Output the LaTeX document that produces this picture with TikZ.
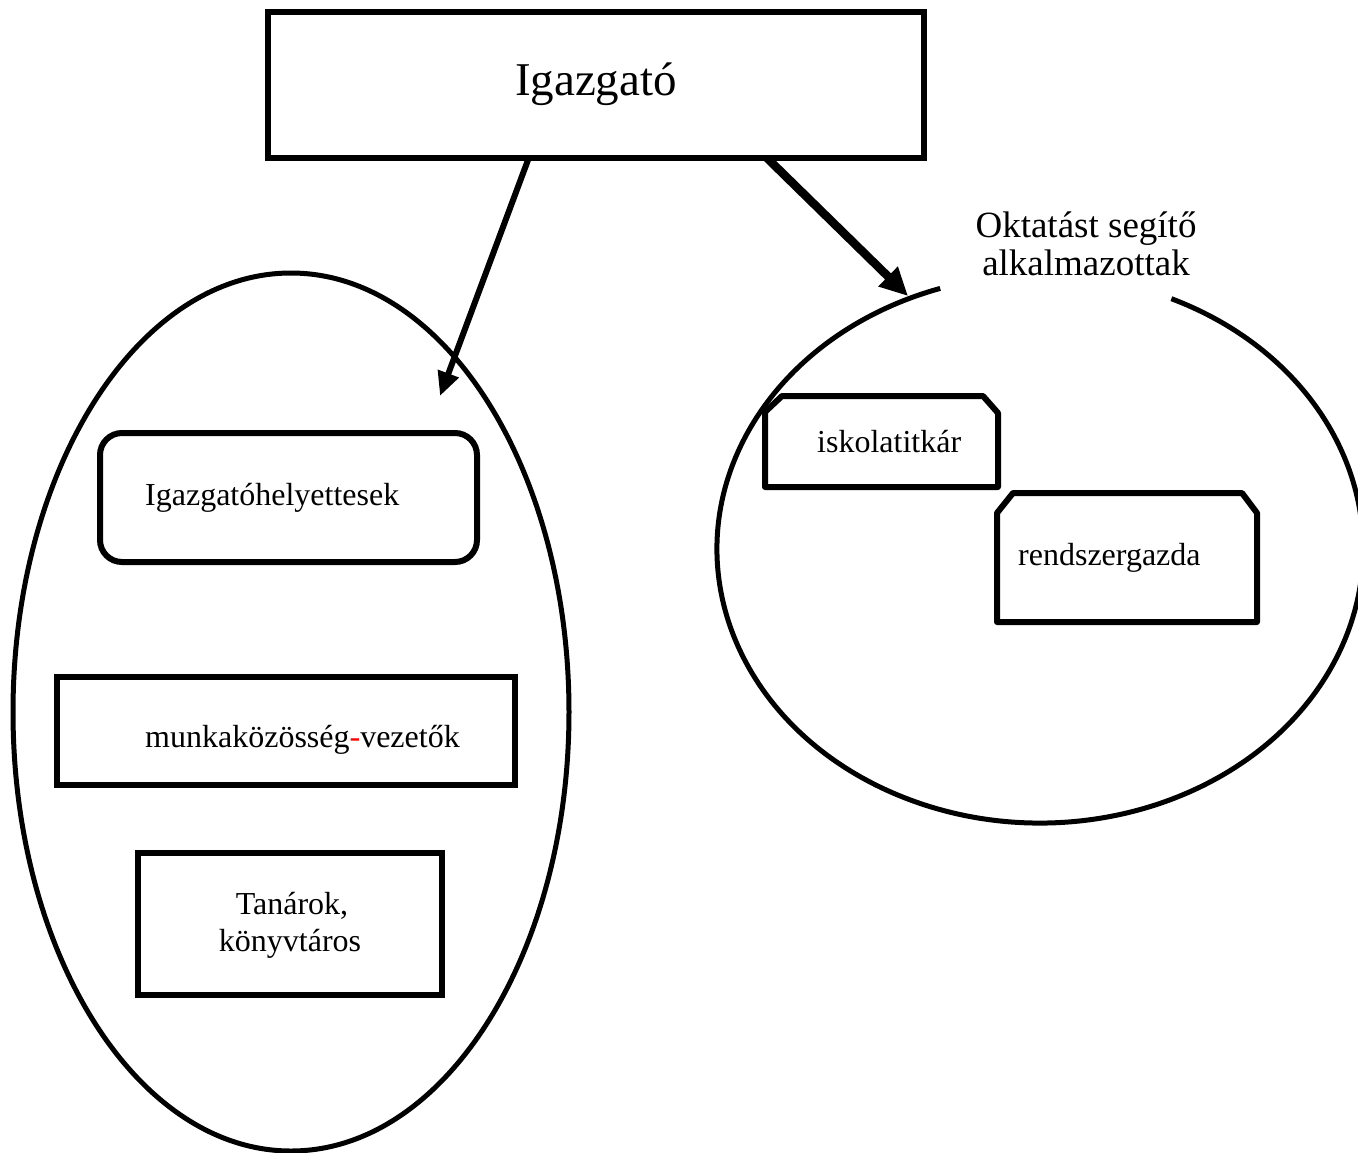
\documentclass[tikz,border=0pt]{standalone}
\usepackage{fontspec}
\setmainfont{Liberation Serif}
\usetikzlibrary{arrows.meta}
\begin{document}
\begin{tikzpicture}[x=1pt,y=-1pt,
  boxline/.style={draw, line width=6pt, inner sep=0pt},
  ellline/.style={draw, line width=5pt},
  lbl/.style={inner sep=0pt, font=\fontsize{32}{38}\selectfont},
  arr/.style={line width=6pt, -{Triangle[length=24pt,width=21pt]}}]
\useasboundingbox[fill=white] (0,0) rectangle (1358,1152);

% top box
\node[boxline, line width=6.5pt, minimum width=656pt, minimum height=146pt] (igaz) at (596,85) {};
\node[inner sep=0pt, anchor=base, font=\fontsize{47}{56}\selectfont] (igaztxt) at (596,95) {Igazgató};

% left ellipse
\coordinate (lc) at (291,712);
\draw[ellline] (lc) ellipse[x radius=278, y radius=439];

% right ellipse (open at the top)
\coordinate (rc) at (1040,549);
\draw[ellline] ([shift={(294:323 and 274)}]rc) arc[start angle=294, end angle=612, x radius=323, y radius=274];
\node[inner sep=0pt, align=center, font=\fontsize{37}{38}\selectfont, anchor=base] (okt) at (1086,275) {Oktatást segítő\\alkalmazottak};

% left boxes
\node[boxline, rounded corners=22pt, minimum width=377pt, minimum height=129pt] (helyb) at (288.5,497.5) {};
\node[lbl, anchor=base west] (helyt) at (145,505) {Igazgatóhelyettesek};

\node[boxline, minimum width=458pt, minimum height=108pt] (munkab) at (286,731) {};
\node[lbl, anchor=base west] (munkat) at (145,747) {munkaközösség\textcolor{red}{-}vezetők};

\node[boxline, minimum width=304pt, minimum height=142pt] (tanb) at (290,924) {};
\node[lbl, anchor=base] (tant1) at (292,914) {Tanárok,};
\node[lbl, anchor=base] (tant2) at (290,951) {könyvtáros};

% right chamfered boxes
\draw[line width=6pt, line join=round] (765,487) -- (765,412) -- (782,396) -- (983,396) -- (998,413) -- (998,487) -- cycle;
\node[lbl, anchor=base west] (iskt) at (817,452) {iskolatitkár};

\draw[line width=6pt, line join=round] (997,622) -- (997,513) -- (1013,493) -- (1242,493) -- (1257,513) -- (1257,622) -- cycle;
\node[lbl, anchor=base west] (rendt) at (1018,565) {rendszergazda};

% arrows
\coordinate (a1s) at (528,160);
\coordinate (a1e) at (440,396);
\coordinate (a2s) at (767,158);
\coordinate (a2e) at (908,296);
\draw[arr] (a1s) -- (a1e);
\draw[arr, line width=8.5pt, -{Triangle[length=28pt,width=26pt]}] (a2s) -- (a2e);
\end{tikzpicture}
\end{document}
